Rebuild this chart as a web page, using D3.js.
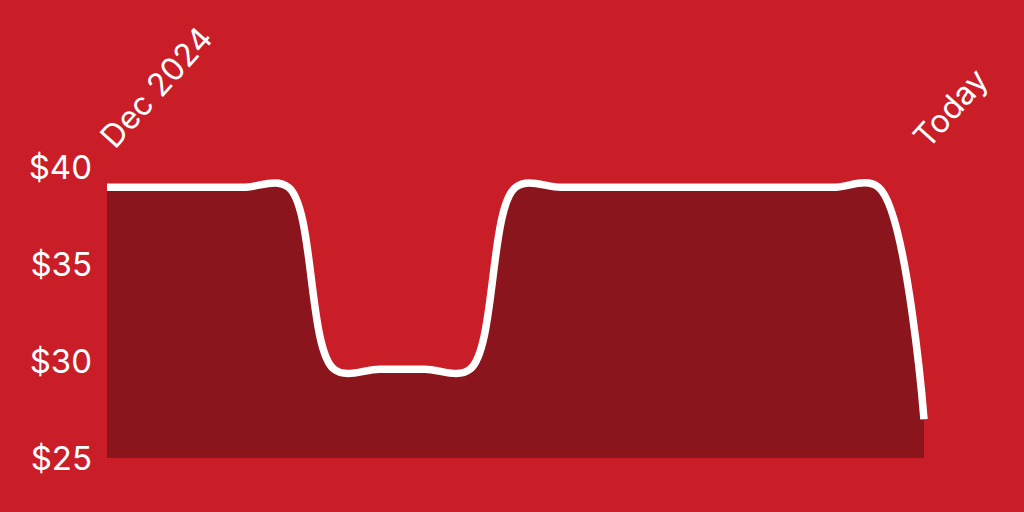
<!DOCTYPE html>
<html>
<head>
<meta charset="utf-8">
<script src="https://cdn.jsdelivr.net/npm/d3@7"></script>
<style>
  html, body { margin: 0; padding: 0; background: #c91d27; }
  svg text { font-family: Inter, "Liberation Sans", Arial, sans-serif; font-weight: 400; fill: #fff; }
</style>
</head>
<body>
<div class="chart"></div>
<script>
// weekly price points, Dec 2024 -> today
const dates = ["2024-12-02", "2024-12-09", "2024-12-16", "2024-12-23", "2024-12-30",
    "2025-01-06", "2025-01-13", "2025-01-20", "2025-01-27", "2025-02-03",
    "2025-02-10", "2025-02-17", "2025-02-24", "2025-03-03", "2025-03-10",
    "2025-03-17", "2025-03-24", "2025-03-31", "2025-04-07"];
const prices = [38.95, 38.95, 38.95, 38.95, 38.95,
    29.58, 29.58, 29.58, 29.58,
    38.95, 38.95, 38.95, 38.95, 38.95, 38.95, 38.95, 38.95, 38.95,
    27.0];
const yTicks = [25, 30, 35, 40];
const startLabel = "Dec 2024";
const endLabel = "Today";

var width = 1024, height = 512;
var margin = {top: 167, right: 100, bottom: 54, left: 107};

const data = dates.map((d, i) => ({date: d3.timeParse("%Y-%m-%d")(d), price: prices[i]}));

const svg = d3.select(".chart").append("svg")
    .attr("width", width)
    .attr("height", height);

svg.append("rect")
    .attr("width", width)
    .attr("height", height)
    .attr("fill", "#c91d27");

const xScale = d3.scaleTime()
    .domain(d3.extent(data, d => d.date))
    .range([margin.left, width - margin.right]);

const yScale = d3.scaleLinear()
    .domain([25, 40])
    .range([height - margin.bottom, margin.top]);

const curve = d3.curveCatmullRom.alpha(0.5);

svg.append("path")
    .datum(data)
    .attr("fill", "#8b151c")
    .attr("d", d3.area()
        .curve(curve)
        .x(d => xScale(d.date))
        .y0(yScale(25))
        .y1(d => yScale(d.price)));

svg.append("path")
    .datum(data)
    .attr("fill", "none")
    .attr("stroke", "#fff")
    .attr("stroke-width", 7.5)
    .attr("d", d3.line()
        .curve(curve)
        .x(d => xScale(d.date))
        .y(d => yScale(d.price)));

// y labels, no axis line
svg.append("g")
    .selectAll("text")
    .data(yTicks)
    .join("text")
    .attr("x", 92)
    .attr("y", d => yScale(d))
    .attr("dy", "0.36em")
    .attr("text-anchor", "end")
    .attr("font-size", 33)
    .text(d => "$" + d);

// rotated date labels
const first = data[0], last = data[data.length - 1];
svg.append("text")
    .attr("transform", `translate(${xScale(first.date) + 8},${150}) rotate(-48)`)
    .attr("font-size", 32)
    .text(startLabel);

svg.append("text")
    .attr("transform", `translate(${xScale(last.date) + 4},${150}) rotate(-48)`)
    .attr("font-size", 32)
    .text(endLabel);
</script>
</body>
</html>
